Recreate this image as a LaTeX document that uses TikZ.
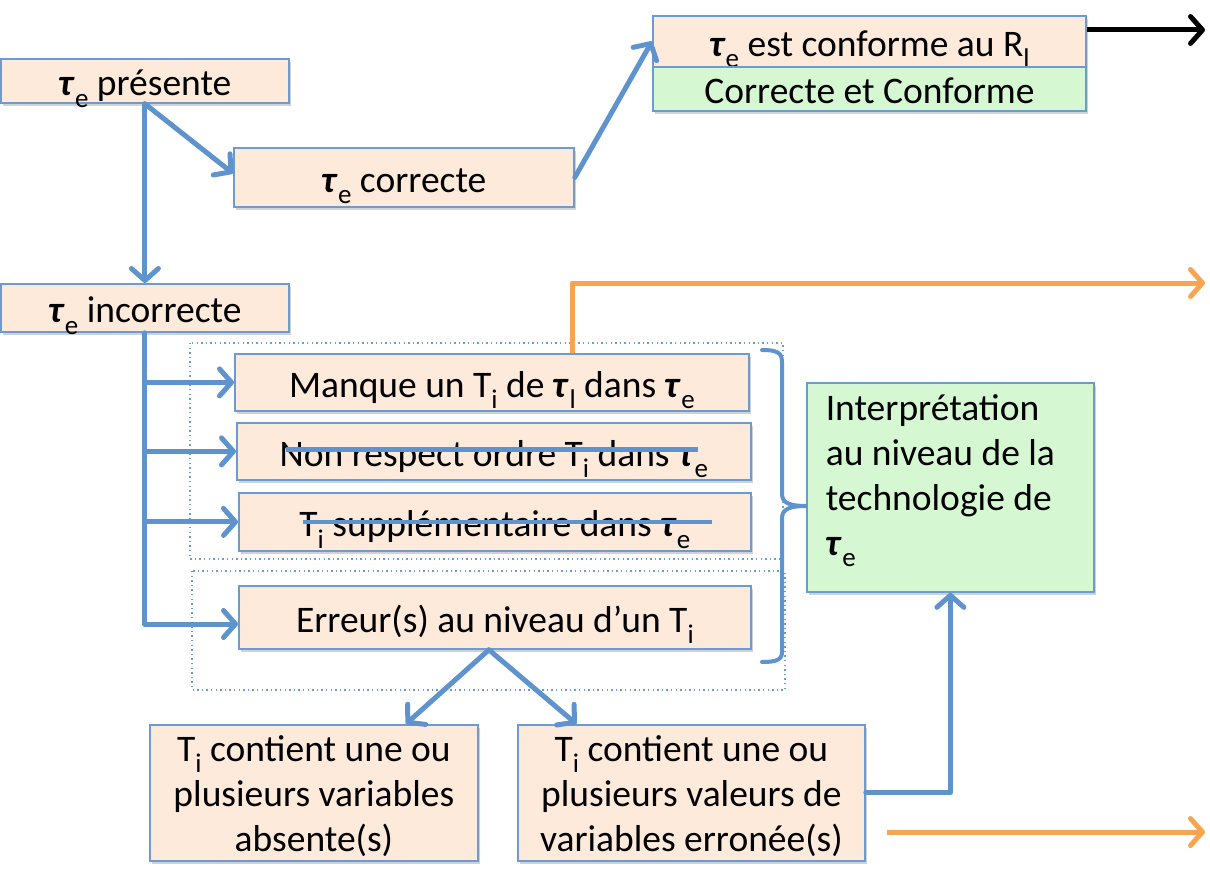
\documentclass[tikz,border=0pt]{standalone}
\usepackage{fontspec}
\setmainfont{Carlito}
\usetikzlibrary{arrows.meta,shadows,calc}
\definecolor{peach}{HTML}{FDEADA}
\definecolor{mint}{HTML}{D5F8D3}
\definecolor{boxblue}{HTML}{6C9BD2}
\definecolor{linkblue}{HTML}{5E93CE}
\definecolor{orangeline}{HTML}{F8A451}
\newcommand{\lowsub}[1]{\raisebox{-0.3em}{\fontsize{27}{27}\selectfont #1}}
\newcommand{\tE}{\textbf{\textit{τ}}\lowsub{e}}
\newcommand{\tL}{\textbf{\textit{τ}}\lowsub{l}}
\newcommand{\Ti}{T\lowsub{i}}
\newcommand{\ctext}[2]{\raisebox{#1}[0pt][0pt]{\begin{tabular}{@{}c@{}}#2\end{tabular}}}
\newcommand{\ltext}[2]{\raisebox{#1}[0pt][0pt]{\begin{tabular}{@{}l@{}}#2\end{tabular}}}
\begin{document}
\begin{tikzpicture}[x=1pt,y=-1pt,
  box/.style={draw=boxblue, line width=1.8pt, fill=peach, inner sep=0pt, anchor=north west,
    font=\fontsize{37.5}{45}\selectfont, align=center,
    drop shadow={shadow xshift=2pt, shadow yshift=-3pt, opacity=0.3, fill=black!60}},
  one/.style={text height=30pt, text depth=0pt},
  gbox/.style={box, fill=mint},
  conn/.style={draw=linkblue, line width=5pt, line cap=round, line join=round,
    -{Straight Barb[length=12pt,width=27pt,round]}},
  plain/.style={draw=linkblue, line width=5pt, line cap=round, line join=round},
  strike/.style={draw=linkblue, line width=4.5pt},
  orange/.style={draw=orangeline, line width=5pt, line join=round,
    -{Straight Barb[length=12pt,width=27pt,round]}},
  blackarr/.style={draw=black, line width=5pt,
    -{Straight Barb[length=12pt,width=27pt,round]}},
  group/.style={draw=boxblue, line width=1.4pt, dash pattern=on 1.4pt off 3.2pt},
]
\useasboundingbox (0,0) rectangle (1210,872);

% group frames
\draw[group] (190,343) rectangle (783,559);
\draw[group] (192,571) rectangle (785,690);

% nodes
\node[box, one, minimum width=288pt, minimum height=44pt] (pres) at (0,58) {\tE{} présente};
\node[box, one, minimum width=340pt, minimum height=59pt] (cor) at (233,147) {\tE{} correcte};
\node[box, one, minimum width=433pt, minimum height=51pt] (conf) at (652,15) {\tE{} est conforme au R\lowsub{l}};
\node[gbox, one, minimum width=433pt, minimum height=44pt] (cc) at (652,66) {Correcte et Conforme};
\node[box, one, minimum width=288pt, minimum height=48pt] (inc) at (0,283) {\tE{} incorrecte};
\node[box, one, minimum width=514pt, minimum height=57pt] (man) at (234,353) {Manque un \Ti{} de \tL{} dans \tE};
\node[box, one, minimum width=514pt, minimum height=57pt] (nr) at (236,422) {Non respect ordre \Ti{} dans \tE};
\node[box, one, minimum width=512pt, minimum height=58pt] (sup) at (238,492) {\Ti{} supplémentaire dans \tE};
\node[box, one, minimum width=512pt, minimum height=63pt] (err) at (238,585) {Erreur(s) au niveau d’un \Ti};
\node[box, minimum width=328pt, minimum height=136pt] (abs) at (149,724)
  {\ctext{-11pt}{\Ti{} contient une ou\\plusieurs variables\\absente(s)}};
\node[box, minimum width=347pt, minimum height=136pt] (val) at (517,724)
  {\ctext{-11pt}{\Ti{} contient une ou\\plusieurs valeurs de\\variables erronée(s)}};
\node[gbox, minimum width=287pt, minimum height=209pt] (int) at (806,382)
  {\hspace*{-20pt}\ltext{2pt}{Interprétation\\au niveau de la\\technologie de\\\tE}};

% strike-through lines
\draw[strike] ($(nr.west)+(50,-2)$) -- ($(nr.west)+(462,-2)$);
\draw[strike] ($(sup.west)+(65,0)$) -- ($(sup.west)+(474,0)$);

% brace
\draw[plain, line width=4pt] (762,350) .. controls (776,350) and (782,352) .. (782,362)
  -- (782,494) .. controls (782,503) and (790,506) .. (int.west |- 0,506)
  (int.west |- 0,506) .. controls (790,506) and (782,509) .. (782,518)
  -- (782,652) .. controls (782,660) and (776,662) .. (762,662);

% connectors
\draw[conn] (pres.south) -- (inc.north);
\draw[conn] (pres.south) -- ([yshift=4pt]cor.west);
\draw[conn] (cor.east) -- (conf.west);
\coordinate (blackend) at (1205,30);
\draw[blackarr] (conf.east |- blackend) -- (blackend);

\draw[plain] (inc.south) -- (inc.south |- 0,624);
\draw[conn] (inc.south |- man.west) -- (man.west);
\draw[conn] (inc.south |- nr.west) -- (nr.west);
\draw[conn] (inc.south |- sup.west) -- (sup.west);
\draw[conn] (inc.south |- 0,624) -- (err.west |- 0,624);

\draw[conn] ([xshift=-6pt]err.south) -- ([xshift=92pt]abs.north);
\draw[conn] ([xshift=-6pt]err.south) -- ([xshift=-115pt]val.north);
\draw[conn] (val.east) -| (int.south);

% orange outputs
\coordinate (o1) at (572,283);
\coordinate (o1end) at (1205,283);
\draw[orange] (man.north -| o1) -- (o1) -- (o1end);
\coordinate (o2a) at (887,832);
\coordinate (o2b) at (1205,832);
\draw[orange] (o2a) -- (o2b);
\end{tikzpicture}
\end{document}
